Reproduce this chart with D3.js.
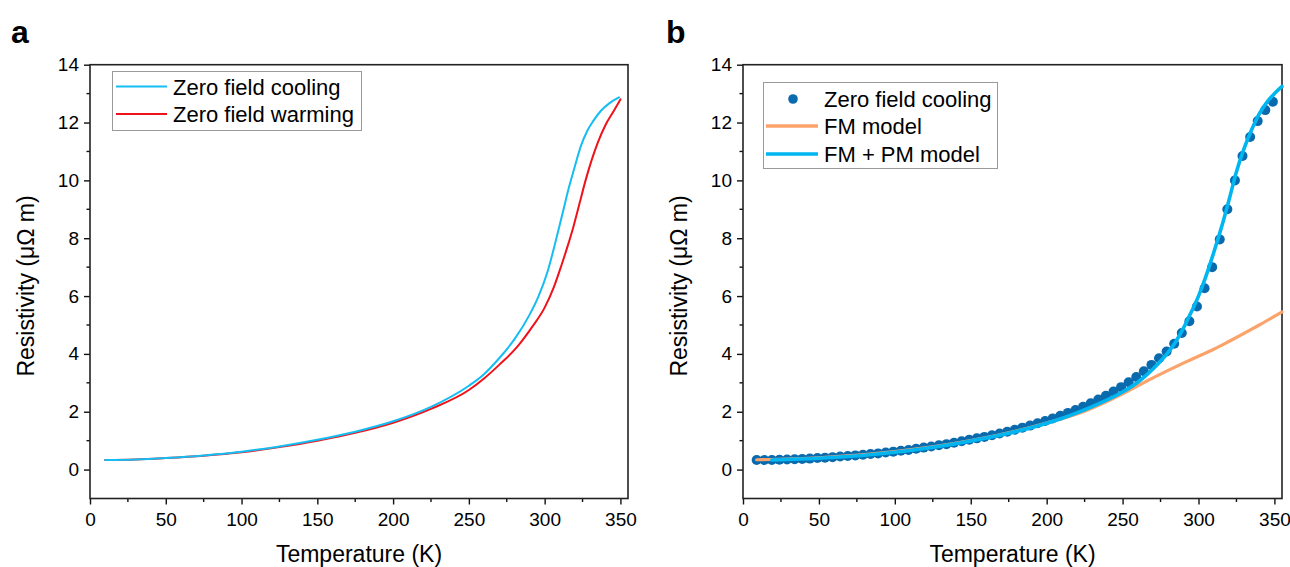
<!DOCTYPE html>
<html>
    <head>
        <meta charset="utf-8">
        <script src="https://d3js.org/d3.v7.min.js"></script>
        <style>
            body {
                margin: 0;
                background-color: white;
            }
            text {
                font-family: "Liberation Sans", Arial, sans-serif;
                fill: black;
            }
        </style>
    </head>
    <body>
    </body>
    <script>

        // panel a - hysteresis loop
        const coolT   = [10, 30, 50, 75, 100, 125, 150, 175, 200, 225, 250, 260, 270, 280, 290, 296, 302, 308, 312, 316, 320, 324, 328, 332, 337, 343, 349];
        const coolRho = [0.33, 0.35, 0.40, 0.49, 0.62, 0.80, 1.03, 1.31, 1.67, 2.17, 2.90, 3.30, 3.85, 4.50, 5.35, 6.00, 6.86, 8.05, 8.90, 9.75, 10.50, 11.20, 11.70, 12.05, 12.40, 12.68, 12.87];
        const warmT   = [10, 30, 50, 75, 100, 125, 150, 175, 200, 225, 250, 260, 270, 282, 292, 300, 306, 311, 315, 319, 323, 327, 331, 335, 340, 345, 350];
        const warmRho = [0.33, 0.35, 0.40, 0.48, 0.60, 0.78, 1.00, 1.27, 1.62, 2.10, 2.75, 3.15, 3.62, 4.25, 4.95, 5.60, 6.30, 7.05, 7.70, 8.40, 9.20, 10.00, 10.70, 11.30, 11.90, 12.35, 12.80];

        // panel b - measured points and the two fits
        const dotT = [9, 14, 19, 24, 29, 34, 39, 44, 49, 54, 59, 64, 69, 74, 79, 84, 89, 94, 99, 104,
                      109, 114, 119, 124, 129, 134, 139, 144, 149, 154, 159, 164, 169, 174, 179, 184, 189, 194, 199, 204,
                      209, 214, 219, 224, 229, 234, 239, 244, 249, 254, 259, 264, 269, 274, 279, 284, 289, 294, 299, 304,
                      309, 314, 319, 324, 329, 334, 339, 344, 349];
        const dotRho = [0.33, 0.33, 0.33, 0.34, 0.35, 0.36, 0.37, 0.38, 0.40, 0.41, 0.43, 0.45, 0.47, 0.49, 0.51, 0.54, 0.56, 0.59, 0.62, 0.65,
                        0.68, 0.72, 0.76, 0.80, 0.84, 0.88, 0.93, 0.98, 1.03, 1.08, 1.13, 1.19, 1.25, 1.31, 1.38, 1.45, 1.52, 1.60, 1.68, 1.77,
                        1.86, 1.96, 2.06, 2.17, 2.29, 2.42, 2.55, 2.70, 2.85, 3.02, 3.20, 3.40, 3.62, 3.85, 4.08, 4.35, 4.72, 5.13, 5.64, 6.27,
                        7.00, 7.96, 9.00, 10.00, 10.84, 11.50, 12.05, 12.43, 12.72];
        const fmT   = [9, 50, 100, 150, 200, 225, 250, 260, 270, 280, 290, 300, 310, 320, 330, 340, 355];
        const fmRho = [0.34, 0.41, 0.62, 1.00, 1.61, 2.02, 2.62, 2.90, 3.17, 3.43, 3.68, 3.92, 4.16, 4.43, 4.71, 5.00, 5.45];
        const fitT   = [19, 50, 100, 150, 200, 230, 250, 260, 270, 280, 285, 290, 295, 300, 305, 310, 315, 320, 325, 330, 335, 340, 345, 350, 355];
        const fitRho = [0.33, 0.39, 0.60, 0.99, 1.60, 2.18, 2.68, 3.02, 3.48, 4.05, 4.42, 4.88, 5.42, 6.00, 6.70, 7.50, 8.35, 9.30, 10.30, 11.10, 11.75, 12.30, 12.70, 13.00, 13.25];

        const xMajor = [0, 50, 100, 150, 200, 250, 300, 350];
        const xMinor = [25, 75, 125, 175, 225, 275, 325];
        const yMajor = [0, 2, 4, 6, 8, 10, 12, 14];
        const yMinor = [1, 3, 5, 7, 9, 11, 13];

        const width = 1290;
        const height = 567;
        const plotTop = 64.7;
        const plotBottom = 498.5;

        var svg = d3.select('body')
            .append('svg')
            .attr('width', width)
            .attr('height', height);

        var yScale = d3.scaleLinear().domain([-1, 14]).range([plotBottom, plotTop]);
        var xScaleA = d3.scaleLinear().domain([0, 355]).range([90, 628]);
        var xScaleB = d3.scaleLinear().domain([0, 355]).range([743, 1282]);

        function drawFrame(xScale, letter, letterX) {
            let g = svg.append('g');
            let x0 = xScale.range()[0], x1 = xScale.range()[1];

            // bottom axis with outward ticks
            let xAxis = d3.axisBottom(xScale).tickValues(xMajor).tickSize(6).tickPadding(8);
            let xAx = g.append('g').attr('transform', 'translate(0,' + plotBottom + ')').call(xAxis);
            xAx.append('g').selectAll('line')
                .data(xMinor).enter()
                .append('line')
                .attr('x1', d => xScale(d)).attr('x2', d => xScale(d))
                .attr('y1', 0).attr('y2', 3.5);

            let yAxis = d3.axisLeft(yScale).tickValues(yMajor).tickSize(6).tickPadding(5);
            let yAx = g.append('g').attr('transform', 'translate(' + x0 + ',0)').call(yAxis);
            yAx.append('g').selectAll('line')
                .data(yMinor).enter()
                .append('line')
                .attr('y1', d => yScale(d)).attr('y2', d => yScale(d))
                .attr('x1', 0).attr('x2', -3.5);

            [xAx, yAx].forEach(function(ax) {
                ax.select('.domain').remove();
                ax.selectAll('line').style('stroke', '#111').style('stroke-width', 1.4);
                ax.selectAll('text').style('font-size', '19px').style('font-family', '"Liberation Sans", Arial, sans-serif').attr('fill', 'black');
            });

            g.append('rect')
                .attr('x', x0).attr('y', plotTop)
                .attr('width', x1 - x0).attr('height', plotBottom - plotTop)
                .style('fill', 'none')
                .style('stroke', '#222')
                .style('stroke-width', 1.6);

            g.append('text')
                .attr('x', (x0 + x1) / 2)
                .attr('y', 562)
                .attr('text-anchor', 'middle')
                .style('font-size', '23px')
                .text('Temperature (K)');

            g.append('text')
                .attr('transform', 'translate(' + (x0 - 56) + ',' + 286 + ') rotate(-90)')
                .attr('text-anchor', 'middle')
                .style('font-size', '23px')
                .text('Resistivity (\u03bc\u03a9 m)');

            g.append('text')
                .attr('x', letterX)
                .attr('y', 43)
                .style('font-size', '32px')
                .style('font-weight', 'bold')
                .text(letter);
        }

        function drawLine(xScale, xs, ys, color, w) {
            let pts = xs.map((t, i) => [t, ys[i]]);
            let line = d3.line()
                .x(d => xScale(d[0]))
                .y(d => yScale(d[1]))
                .curve(d3.curveMonotoneX);
            svg.append('path')
                .datum(pts)
                .attr('d', line)
                .style('fill', 'none')
                .style('stroke', color)
                .style('stroke-width', w)
                .style('stroke-linecap', 'round');
        }

        function drawLegend(x, y, w, h, items) {
            svg.append('rect')
                .attr('x', x).attr('y', y)
                .attr('width', w).attr('height', h)
                .style('fill', 'white')
                .style('stroke', '#9a9a9a')
                .style('stroke-width', 1);
            items.forEach(function(it) {
                if (it.type == 'dot') {
                    svg.append('circle')
                        .attr('cx', it.x1 + (it.x2 - it.x1) / 2 + 1).attr('cy', it.y)
                        .attr('r', 4.8)
                        .style('fill', it.color);
                } else {
                    svg.append('line')
                        .attr('x1', it.x1).attr('x2', it.x2)
                        .attr('y1', it.y).attr('y2', it.y)
                        .style('stroke', it.color)
                        .style('stroke-width', it.w);
                }
                svg.append('text')
                    .attr('x', it.tx)
                    .attr('y', it.y + 8)
                    .style('font-size', '22px')
                    .text(it.label);
            });
        }

        // ---- panel a
        drawFrame(xScaleA, 'a', 11);
        drawLine(xScaleA, warmT, warmRho, '#f0121b', 2);
        drawLine(xScaleA, coolT, coolRho, '#14bdf2', 2);
        drawLegend(112.5, 71.5, 249, 59, [
            {type: 'line', x1: 116, x2: 167, y: 86.5, color: '#14bdf2', w: 2, tx: 173, label: 'Zero field cooling'},
            {type: 'line', x1: 116, x2: 167, y: 114, color: '#f0121b', w: 2, tx: 173, label: 'Zero field warming'}
        ]);

        // ---- panel b
        drawFrame(xScaleB, 'b', 666);
        svg.append('g').selectAll('circle')
            .data(dotT.map((t, i) => [t, dotRho[i]]))
            .enter()
            .append('circle')
            .attr('r', 5)
            .attr('cx', d => xScaleB(d[0]))
            .attr('cy', d => yScale(d[1]))
            .style('fill', '#0a6aae');
        drawLine(xScaleB, fmT, fmRho, '#fca36b', 3.2);
        drawLine(xScaleB, fitT, fitRho, '#00b6f1', 3.6);
        drawLegend(763.5, 82.5, 234, 86, [
            {type: 'dot', x1: 766, x2: 818, y: 99, color: '#0a6aae', tx: 824, label: 'Zero field cooling'},
            {type: 'line', x1: 766, x2: 818, y: 126, color: '#fca36b', w: 3.5, tx: 824, label: 'FM model'},
            {type: 'line', x1: 766, x2: 818, y: 154, color: '#00b6f1', w: 3.5, tx: 824, label: 'FM + PM model'}
        ]);

    </script>
</html>
